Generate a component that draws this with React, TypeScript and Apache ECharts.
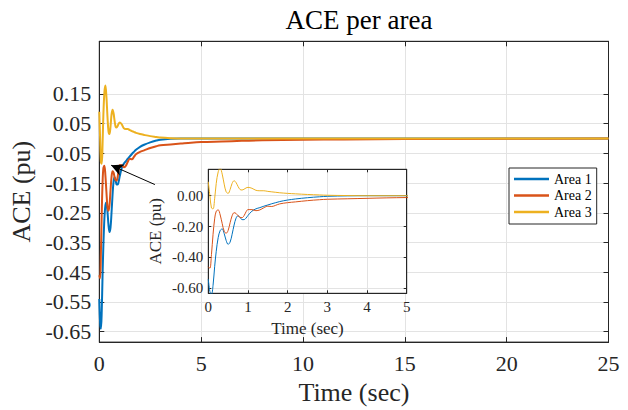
import React, { useEffect, useRef } from "react";
import * as echarts from "echarts";

const timeSec = [0, 0.04, 0.08, 0.12, 0.16, 0.2, 0.25, 0.3, 0.35, 0.4, 0.45, 0.5, 0.55, 0.6, 0.65, 0.7, 0.75, 0.8, 0.85, 0.9, 0.95, 1.0, 1.1, 1.2, 1.3, 1.4, 1.5, 1.6, 1.7, 1.8, 2.0, 2.2, 2.5, 2.8, 3.0, 3.5, 4, 4.5, 5, 6, 7, 8, 10, 12, 15, 20, 25];
const area1 = [-0.54, -0.62, -0.64, -0.58, -0.46, -0.36, -0.27, -0.225, -0.215, -0.245, -0.29, -0.315, -0.3, -0.25, -0.19, -0.145, -0.13, -0.14, -0.155, -0.155, -0.145, -0.128, -0.1, -0.085, -0.077, -0.068, -0.06, -0.052, -0.045, -0.038, -0.028, -0.021, -0.013, -0.007, -0.004, -0.001, 0, 0, 0, 0, 0, 0, 0, 0, 0, 0, 0];
const area2 = [-0.46, -0.47, -0.38, -0.25, -0.15, -0.1, -0.092, -0.125, -0.18, -0.23, -0.243, -0.225, -0.175, -0.13, -0.11, -0.115, -0.13, -0.14, -0.142, -0.13, -0.105, -0.09, -0.09, -0.097, -0.092, -0.078, -0.068, -0.07, -0.062, -0.053, -0.045, -0.04, -0.032, -0.026, -0.023, -0.02, -0.017, -0.014, -0.012, -0.01, -0.008, -0.006, -0.004, -0.003, -0.002, -0.001, 0];
const area3 = [0.09, 0.0, -0.08, -0.085, -0.02, 0.08, 0.155, 0.178, 0.14, 0.075, 0.025, 0.015, 0.04, 0.08, 0.097, 0.085, 0.06, 0.04, 0.037, 0.042, 0.05, 0.054, 0.048, 0.035, 0.032, 0.032, 0.028, 0.025, 0.022, 0.019, 0.015, 0.012, 0.008, 0.005, 0.003, 0.001, 0, 0, 0, 0, 0, 0, 0, 0, 0, 0, 0];

const seriesNames = ["Area 1", "Area 2", "Area 3"];
const seriesColors = ["#0072BD", "#D95319", "#EDB120"];
const mainYTicks = [-0.65, -0.55, -0.45, -0.35, -0.25, -0.15, -0.05, 0.05, 0.15];
const insetYTicks = [-0.6, -0.4, -0.2, 0];
const arrowTail = [2.73, -0.155];
const arrowHead = [0.58, -0.09];

const FONT = "'Liberation Serif', 'Times New Roman', serif";
const AX = "#262626";
const GRIDC = "#e3e3e3";

export default function App() {
  const ref = useRef<HTMLDivElement>(null);
  useEffect(() => {
    if (!ref.current) return;
    const chart = echarts.init(ref.current, undefined, { renderer: "svg" });
    const values = [area1, area2, area3];
    const pairs = values.map((arr) => timeSec.map((t, i) => [t, arr[i]]));

    const mainX = { min: 0, max: 25, interval: 5 };
    const mainY = { min: -0.685, max: 0.327 };
    const insX = { min: 0, max: 5, interval: 1 };
    const insY = { min: -0.632, max: 0.171 };

    const tickStyle = { show: true, inside: true, length: 5, lineStyle: { color: AX, width: 1 } };
    const insTick = { show: true, inside: true, length: 3, lineStyle: { color: AX, width: 1 } };
    const axLine = { show: true, onZero: false, lineStyle: { color: AX, width: 1 } };

    const option: any = {
      animation: false,
      backgroundColor: "#ffffff",
      title: {
        text: "ACE per area",
        left: 354,
        top: 1,
        textAlign: "center",
        textStyle: { fontFamily: FONT, fontSize: 27, fontWeight: "normal", color: "#000" },
      },
      legend: {
        data: seriesNames,
        orient: "vertical",
        left: 509,
        top: 168,
        icon: "rect",
        itemWidth: 35,
        itemHeight: 2.5,
        itemGap: 2.5,
        padding: [4, 5, 5, 5],
        backgroundColor: "#ffffff",
        borderColor: AX,
        borderWidth: 1,
        borderRadius: 0,
        textStyle: { fontFamily: FONT, fontSize: 14, color: "#000" },
      },
      grid: [
        { left: 99.3, top: 41.3, width: 509.2, height: 310.4, show: true, borderColor: AX, borderWidth: 1, backgroundColor: "#fff", z: 0 },
        { left: 208.3, top: 169.3, width: 198.4, height: 124, show: true, borderColor: AX, borderWidth: 1, backgroundColor: "#fff", z: 1 },
      ],
      xAxis: [
        {
          type: "value", gridIndex: 0, position: "bottom", ...mainX, z: 0,
          axisLine: axLine, axisTick: tickStyle,
          axisLabel: { margin: 10, fontFamily: FONT, fontSize: 22, color: AX },
          splitLine: { show: true, lineStyle: { color: GRIDC, width: 1 } },
          name: "Time (sec)", nameLocation: "middle", nameGap: 32,
          nameTextStyle: { fontFamily: FONT, fontSize: 26, color: AX },
        },
        {
          type: "value", gridIndex: 0, position: "top", ...mainX, z: 0,
          axisLine: axLine, axisTick: tickStyle, axisLabel: { show: false }, splitLine: { show: false },
        },
        {
          type: "value", gridIndex: 1, position: "bottom", ...insX, z: 2,
          axisLine: axLine, axisTick: insTick,
          axisLabel: { margin: 6, fontFamily: FONT, fontSize: 15, color: AX },
          splitLine: { show: true, lineStyle: { color: GRIDC, width: 1 } },
          name: "Time (sec)", nameLocation: "middle", nameGap: 27,
          nameTextStyle: { fontFamily: FONT, fontSize: 17, color: AX },
        },
        {
          type: "value", gridIndex: 1, position: "top", ...insX, z: 2,
          axisLine: axLine, axisTick: insTick, axisLabel: { show: false }, splitLine: { show: false },
        },
      ],
      yAxis: [
        {
          type: "value", gridIndex: 0, position: "left", ...mainY, z: 0,
          axisLine: axLine, axisTick: { ...tickStyle, customValues: mainYTicks },
          axisLabel: { margin: 8, fontFamily: FONT, fontSize: 22, color: AX, customValues: mainYTicks, formatter: (v: number) => v.toFixed(2) },
          splitLine: { show: true, lineStyle: { color: GRIDC, width: 1 } },
          name: "ACE (pu)", nameLocation: "middle", nameGap: 63,
          nameTextStyle: { fontFamily: FONT, fontSize: 26, color: AX },
        },
        {
          type: "value", gridIndex: 0, position: "right", ...mainY, z: 0,
          axisLine: axLine, axisTick: { ...tickStyle, customValues: mainYTicks },
          axisLabel: { show: false, customValues: mainYTicks }, splitLine: { show: false },
        },
        {
          type: "value", gridIndex: 1, position: "left", ...insY, z: 2,
          axisLine: axLine, axisTick: { ...insTick, customValues: insetYTicks },
          axisLabel: { margin: 5, fontFamily: FONT, fontSize: 15, color: AX, customValues: insetYTicks, formatter: (v: number) => v.toFixed(2) },
          splitLine: { show: true, lineStyle: { color: GRIDC, width: 1 } },
          name: "ACE (pu)", nameLocation: "middle", nameGap: 44,
          nameTextStyle: { fontFamily: FONT, fontSize: 17, color: AX },
        },
        {
          type: "value", gridIndex: 1, position: "right", ...insY, z: 2,
          axisLine: axLine, axisTick: { ...insTick, customValues: insetYTicks },
          axisLabel: { show: false, customValues: insetYTicks }, splitLine: { show: false },
        },
      ],
      series: [
        ...pairs.map((d, i) => ({
          type: "line",
          name: seriesNames[i],
          xAxisIndex: 0,
          yAxisIndex: 0,
          data: d,
          showSymbol: false,
          smooth: 0.35,
          z: 2,
          lineStyle: { color: seriesColors[i], width: 2 },
          itemStyle: { color: seriesColors[i] },
          ...(i === 0
            ? {
                markLine: {
                  silent: true,
                  symbol: ["none", "arrow"],
                  symbolSize: [9, 12],
                  label: { show: false },
                  lineStyle: { color: "#000", width: 1, type: "solid" },
                  data: [[{ coord: arrowTail }, { coord: arrowHead }]],
                },
              }
            : {}),
        })),
        ...pairs.map((d, i) => ({
          type: "line",
          name: seriesNames[i],
          xAxisIndex: 2,
          yAxisIndex: 2,
          data: d,
          showSymbol: false,
          smooth: 0.35,
          clip: true,
          z: 3,
          lineStyle: { color: seriesColors[i], width: 1 },
          itemStyle: { color: seriesColors[i] },
        })),
      ],
    };
    chart.setOption(option);
    return () => chart.dispose();
  }, []);
  return <div ref={ref} style={{ position: "fixed", left: 0, top: 0, width: 628, height: 410 }} />;
}
